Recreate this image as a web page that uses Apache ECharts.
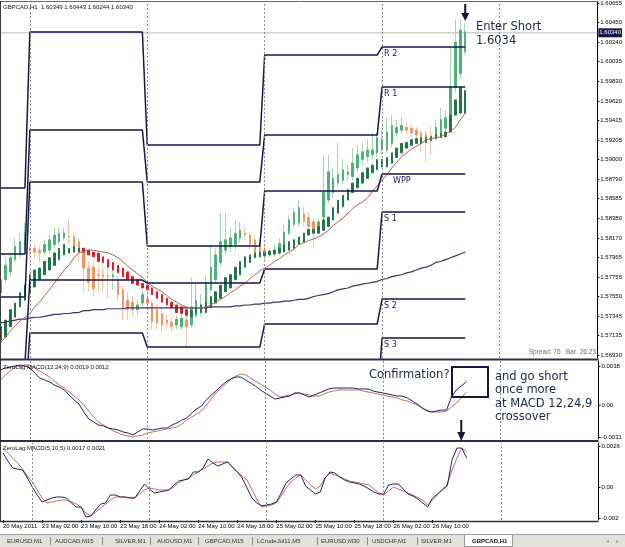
<!DOCTYPE html>
<html>
<head>
<meta charset="utf-8">
<script src="https://cdn.jsdelivr.net/npm/echarts@6/dist/echarts.min.js"></script>
<style>
  html, body { margin: 0; padding: 0; background: #fff; }
  #chart { width: 625px; height: 547px; }
</style>
</head>
<body>
<div id="chart"></div>
<script>
// ---- data ----
const sessions = [['20 May', 18, 24], ['23 May', 0, 24], ['24 May', 0, 24], ['25 May', 0, 24], ['26 May', 0, 24], ['27 May', 0, 21]]
const hours = []
sessions.forEach(([d, h0, h1]) => {
  for (let h = h0; h < h1; h++) hours.push(d + ' ' + String(h).padStart(2, '0') + ':00')
})

const candleOpen = [
  1.5759,1.5773,1.5781,1.5794,1.5799,1.5808,1.5806,1.5806,1.5804,1.5802,
  1.5804,1.5810,1.5813,1.5817,1.5819,1.5818,1.5813,1.5802,1.5785,1.5786,
  1.5778,1.5778,1.5777,1.5776,1.5773,1.5762,1.5751,1.5749,1.5741,1.5748,
  1.5753,1.5748,1.5741,1.5737,1.5730,1.5728,1.5725,1.5723,1.5730,1.5725,
  1.5735,1.5738,1.5741,1.5762,1.5773,1.5791,1.5804,1.5808,1.5810,1.5817,
  1.5822,1.5820,1.5815,1.5810,1.5804,1.5801,1.5800,1.5802,1.5810,1.5822,
  1.5831,1.5833,1.5842,1.5839,1.5834,1.5825,1.5839,1.5857,1.5865,1.5875,
  1.5878,1.5884,1.5882,1.5891,1.5900,1.5903,1.5905,1.5907,1.5910,1.5910,
  1.5917,1.5928,1.5931,1.5934,1.5933,1.5931,1.5928,1.5926,1.5925,1.5924,
  1.5929,1.5933,1.5934,1.5976,1.5991,1.6014]
const candleClose = [
  1.5773,1.5788,1.5796,1.5808,1.5813,1.5823,1.5803,1.5802,1.5801,1.5810,
  1.5815,1.5820,1.5822,1.5822,1.5818,1.5808,1.5802,1.5785,1.5770,1.5763,
  1.5777,1.5776,1.5776,1.5778,1.5757,1.5743,1.5741,1.5741,1.5746,1.5757,
  1.5748,1.5728,1.5727,1.5725,1.5727,1.5723,1.5731,1.5732,1.5723,1.5744,
  1.5751,1.5746,1.5770,1.5786,1.5799,1.5813,1.5815,1.5817,1.5822,1.5825,
  1.5820,1.5810,1.5801,1.5799,1.5799,1.5800,1.5804,1.5811,1.5823,1.5836,
  1.5844,1.5849,1.5834,1.5829,1.5823,1.5834,1.5865,1.5887,1.5880,1.5884,
  1.5889,1.5887,1.5896,1.5905,1.5908,1.5910,1.5910,1.5923,1.5921,1.5929,
  1.5936,1.5934,1.5936,1.5931,1.5928,1.5926,1.5924,1.5921,1.5923,1.5934,
  1.5942,1.5944,1.5977,1.6024,1.6037,1.6035]
const candleHigh = [
  1.5778,1.5796,1.5802,1.5817,1.5822,1.5833,1.5810,1.5811,1.5808,1.5815,
  1.5820,1.5828,1.5828,1.5828,1.5837,1.5821,1.5817,1.5805,1.5792,1.5792,
  1.5788,1.5785,1.5785,1.5785,1.5777,1.5767,1.5760,1.5756,1.5751,1.5762,
  1.5759,1.5751,1.5746,1.5743,1.5735,1.5732,1.5735,1.5738,1.5734,1.5775,
  1.5769,1.5757,1.5776,1.5808,1.5806,1.5843,1.5843,1.5828,1.5836,1.5834,
  1.5828,1.5823,1.5819,1.5815,1.5810,1.5806,1.5811,1.5817,1.5831,1.5841,
  1.5849,1.5857,1.5849,1.5844,1.5838,1.5838,1.5905,1.5905,1.5891,1.5917,
  1.5900,1.5894,1.5912,1.5915,1.5918,1.5921,1.5929,1.5928,1.5931,1.5945,
  1.5947,1.5942,1.5945,1.5940,1.5936,1.5934,1.5931,1.5931,1.5936,1.5942,
  1.5955,1.5952,1.6018,1.6048,1.6048,1.6044]
const candleLow = [
  1.5753,1.5769,1.5777,1.5791,1.5796,1.5804,1.5798,1.5796,1.5792,1.5799,
  1.5801,1.5806,1.5810,1.5814,1.5810,1.5802,1.5792,1.5760,1.5760,1.5755,
  1.5759,1.5760,1.5753,1.5762,1.5751,1.5730,1.5730,1.5734,1.5736,1.5745,
  1.5741,1.5720,1.5720,1.5717,1.5722,1.5717,1.5720,1.5720,1.5701,1.5722,
  1.5732,1.5734,1.5737,1.5759,1.5769,1.5787,1.5799,1.5802,1.5804,1.5812,
  1.5815,1.5804,1.5796,1.5794,1.5792,1.5796,1.5797,1.5799,1.5806,1.5819,
  1.5828,1.5829,1.5830,1.5823,1.5806,1.5821,1.5836,1.5854,1.5859,1.5871,
  1.5874,1.5878,1.5878,1.5887,1.5894,1.5897,1.5900,1.5902,1.5905,1.5907,
  1.5913,1.5924,1.5927,1.5927,1.5924,1.5921,1.5908,1.5897,1.5905,1.5921,
  1.5926,1.5929,1.5931,1.5971,1.5986,1.6011]

// smoothed (Heiken Ashi style) candles
const haOpen = [
  1.5709,1.5712,1.5723,1.5733,1.5744,1.5751,1.5759,1.5765,1.5773,1.5778,
  1.5783,1.5788,1.5794,1.5799,1.5801,1.5802,1.5802,1.5806,1.5804,1.5802,
  1.5801,1.5797,1.5794,1.5791,1.5788,1.5785,1.5781,1.5776,1.5773,1.5769,
  1.5767,1.5764,1.5760,1.5757,1.5753,1.5749,1.5746,1.5744,1.5741,1.5734,
  1.5737,1.5738,1.5738,1.5743,1.5748,1.5753,1.5760,1.5764,1.5773,1.5778,
  1.5786,1.5791,1.5796,1.5797,1.5798,1.5799,1.5800,1.5801,1.5802,1.5804,
  1.5806,1.5810,1.5812,1.5820,1.5822,1.5822,1.5825,1.5829,1.5836,1.5843,
  1.5850,1.5857,1.5865,1.5870,1.5875,1.5880,1.5886,1.5889,1.5892,1.5892,
  1.5896,1.5902,1.5907,1.5912,1.5915,1.5917,1.5917,1.5918,1.5920,1.5922,
  1.5923,1.5924,1.5929,1.5947,1.5949,1.5949]
const haClose = [
  1.5723,1.5730,1.5741,1.5748,1.5759,1.5767,1.5778,1.5783,1.5785,1.5792,
  1.5796,1.5801,1.5806,1.5810,1.5806,1.5808,1.5806,1.5802,1.5799,1.5797,
  1.5792,1.5791,1.5786,1.5783,1.5780,1.5776,1.5773,1.5769,1.5767,1.5764,
  1.5762,1.5757,1.5753,1.5749,1.5746,1.5743,1.5738,1.5737,1.5735,1.5740,
  1.5743,1.5746,1.5749,1.5755,1.5760,1.5767,1.5775,1.5778,1.5786,1.5792,
  1.5797,1.5799,1.5801,1.5802,1.5802,1.5803,1.5804,1.5806,1.5810,1.5813,
  1.5815,1.5818,1.5822,1.5826,1.5826,1.5829,1.5836,1.5839,1.5849,1.5857,
  1.5862,1.5868,1.5875,1.5880,1.5886,1.5891,1.5894,1.5900,1.5900,1.5902,
  1.5907,1.5912,1.5917,1.5918,1.5921,1.5922,1.5923,1.5923,1.5924,1.5926,
  1.5928,1.5929,1.5947,1.5963,1.5976,1.5973]

const fastMA = [
  1.5706,1.5712,1.5718,1.5724,1.5729,1.5733,1.5737,1.5744,1.5749,1.5756,
  1.5762,1.5769,1.5776,1.5783,1.5788,1.5796,1.5801,1.5803,1.5804,1.5804,
  1.5803,1.5802,1.5801,1.5799,1.5796,1.5792,1.5787,1.5783,1.5779,1.5775,
  1.5770,1.5766,1.5763,1.5760,1.5756,1.5752,1.5749,1.5746,1.5744,1.5743,
  1.5743,1.5743,1.5744,1.5746,1.5749,1.5752,1.5755,1.5759,1.5762,1.5766,
  1.5769,1.5774,1.5778,1.5782,1.5785,1.5788,1.5792,1.5795,1.5799,1.5802,
  1.5805,1.5810,1.5812,1.5814,1.5816,1.5818,1.5821,1.5825,1.5830,1.5834,
  1.5838,1.5843,1.5848,1.5852,1.5855,1.5859,1.5866,1.5872,1.5878,1.5884,
  1.5891,1.5897,1.5903,1.5907,1.5911,1.5914,1.5917,1.5921,1.5922,1.5923,
  1.5924,1.5927,1.5930,1.5934,1.5942,1.5949]
const slowMA = [
  1.5727,1.5728,1.5729,1.5730,1.5731,1.5731,1.5732,1.5733,1.5733,1.5734,
  1.5735,1.5736,1.5736,1.5737,1.5737,1.5738,1.5738,1.5740,1.5740,1.5741,
  1.5741,1.5741,1.5742,1.5742,1.5742,1.5742,1.5743,1.5743,1.5743,1.5743,
  1.5743,1.5743,1.5743,1.5743,1.5743,1.5743,1.5743,1.5743,1.5743,1.5743,
  1.5743,1.5743,1.5743,1.5744,1.5744,1.5744,1.5744,1.5744,1.5745,1.5745,
  1.5746,1.5746,1.5747,1.5747,1.5748,1.5748,1.5749,1.5749,1.5750,1.5750,
  1.5751,1.5752,1.5752,1.5753,1.5755,1.5756,1.5757,1.5758,1.5760,1.5762,
  1.5763,1.5764,1.5766,1.5767,1.5768,1.5769,1.5770,1.5771,1.5773,1.5774,
  1.5776,1.5777,1.5778,1.5780,1.5781,1.5783,1.5785,1.5786,1.5788,1.5791,
  1.5792,1.5794,1.5796,1.5798,1.5800,1.5802]

// daily pivot levels
const pivotDays = ['20 May', '23 May', '24 May', '25 May', '26 May']
const pivotR2 = [1.58698, 1.60348, 1.59153, 1.60105, 1.60190]
const pivotR1 = [1.57999, 1.59311, 1.58761, 1.59258, 1.59766]
const pivotPP = [1.57544, 1.58761, 1.58084, 1.58666, 1.58846]
const pivotS1 = [1.56846, 1.57724, 1.57692, 1.57840, 1.58444]
const pivotS2 = [1.56391, 1.57163, 1.57015, 1.57258, 1.57523]
const pivotS3 = [1.55692, 1.56126, 1.56624, 1.56412, 1.57110]

const macd1Main = [
  0.00340,0.00360,0.00369,0.00379,0.00389,0.00379,0.00360,0.00311,0.00262,0.00243,
  0.00224,0.00194,0.00175,0.00146,0.00097,0.00049,0.00010,-0.00068,-0.00136,-0.00165,
  -0.00194,-0.00204,-0.00224,-0.00233,-0.00243,-0.00262,-0.00272,-0.00292,-0.00262,-0.00233,
  -0.00233,-0.00243,-0.00233,-0.00224,-0.00224,-0.00194,-0.00175,-0.00146,-0.00126,-0.00078,
  -0.00039,-0.00010,0.00049,0.00097,0.00136,0.00185,0.00224,0.00253,0.00272,0.00272,
  0.00243,0.00214,0.00185,0.00146,0.00117,0.00087,0.00058,0.00068,0.00078,0.00087,
  0.00117,0.00117,0.00097,0.00078,0.00097,0.00117,0.00136,0.00156,0.00165,0.00165,
  0.00165,0.00165,0.00165,0.00156,0.00156,0.00156,0.00136,0.00126,0.00117,0.00107,
  0.00097,0.00087,0.00087,0.00068,0.00039,0.00010,-0.00029,-0.00058,-0.00068,-0.00058,
  -0.00049,-0.00049,0.00078,0.00146,0.00185,0.00224]
const macd1Signal = [
  0.00243,0.00292,0.00330,0.00369,0.00379,0.00389,0.00389,0.00360,0.00330,0.00301,
  0.00272,0.00233,0.00194,0.00165,0.00126,0.00087,0.00049,0.00000,-0.00058,-0.00117,
  -0.00165,-0.00194,-0.00224,-0.00253,-0.00272,-0.00292,-0.00301,-0.00311,-0.00301,-0.00292,
  -0.00272,-0.00262,-0.00253,-0.00243,-0.00233,-0.00224,-0.00214,-0.00185,-0.00146,-0.00117,
  -0.00087,-0.00058,0.00000,0.00058,0.00117,0.00165,0.00204,0.00253,0.00282,0.00301,
  0.00292,0.00262,0.00233,0.00204,0.00175,0.00146,0.00107,0.00078,0.00087,0.00097,
  0.00107,0.00117,0.00107,0.00097,0.00087,0.00087,0.00107,0.00126,0.00136,0.00146,
  0.00146,0.00146,0.00146,0.00146,0.00136,0.00126,0.00117,0.00107,0.00097,0.00087,
  0.00078,0.00068,0.00049,0.00039,0.00019,0.00000,-0.00029,-0.00049,-0.00068,-0.00068,
  -0.00068,-0.00058,-0.00019,0.00019,0.00068,0.00126]
const macd2Main = [
  0.00217,0.00166,0.00121,0.00115,0.00109,0.00058,0.00000,-0.00051,-0.00096,-0.00083,
  -0.00070,-0.00064,-0.00064,-0.00070,-0.00102,-0.00128,-0.00128,-0.00192,-0.00185,-0.00147,
  -0.00109,-0.00102,-0.00051,-0.00051,-0.00064,-0.00064,-0.00070,-0.00070,-0.00026,0.00019,
  -0.00013,-0.00038,-0.00032,-0.00026,-0.00019,0.00013,0.00038,0.00045,0.00051,0.00096,
  0.00096,0.00121,0.00179,0.00153,0.00134,0.00147,0.00160,0.00128,0.00096,0.00058,
  -0.00006,-0.00070,-0.00102,-0.00121,-0.00115,-0.00109,-0.00096,-0.00038,0.00026,0.00051,
  0.00077,0.00077,0.00006,-0.00019,-0.00045,-0.00032,0.00058,0.00096,0.00089,0.00064,
  0.00045,0.00032,0.00026,0.00019,0.00006,-0.00013,-0.00032,-0.00045,-0.00045,0.00013,
  0.00019,0.00019,-0.00013,-0.00045,-0.00058,-0.00077,-0.00102,-0.00128,-0.00070,-0.00045,
  -0.00019,0.00006,0.00173,0.00249,0.00249,0.00185]
const macd2Signal = [
  0.00249,0.00217,0.00185,0.00153,0.00115,0.00070,0.00032,-0.00019,-0.00070,-0.00102,
  -0.00096,-0.00089,-0.00083,-0.00083,-0.00096,-0.00109,-0.00128,-0.00166,-0.00185,-0.00160,
  -0.00134,-0.00109,-0.00083,-0.00064,-0.00064,-0.00064,-0.00070,-0.00070,-0.00045,-0.00019,
  -0.00006,-0.00013,-0.00019,-0.00019,-0.00019,0.00000,0.00026,0.00045,0.00058,0.00077,
  0.00096,0.00115,0.00134,0.00153,0.00160,0.00160,0.00160,0.00128,0.00096,0.00070,
  0.00045,-0.00019,-0.00077,-0.00128,-0.00121,-0.00115,-0.00102,-0.00058,-0.00006,0.00032,
  0.00058,0.00077,0.00045,0.00013,-0.00013,0.00006,0.00058,0.00089,0.00077,0.00064,
  0.00051,0.00038,0.00032,0.00026,0.00019,0.00013,-0.00013,-0.00038,-0.00051,-0.00026,
  0.00000,-0.00013,-0.00026,-0.00038,-0.00051,-0.00070,-0.00083,-0.00115,-0.00083,-0.00051,
  -0.00013,0.00013,0.00109,0.00185,0.00249,0.00224]

// axis tick labels
const priceTicks = [1.56930, 1.57135, 1.57345, 1.57550, 1.57755, 1.57965, 1.58170, 1.58380, 1.58585, 1.58790,
  1.59000, 1.59205, 1.59415, 1.59620, 1.59830, 1.60035, 1.60240, 1.60450, 1.60655]
const macd1Ticks = [0.0038, 0, -0.0031]
const macd1TickText = ['0.0038', '0.00', '-0.0031']
const macd2Ticks = [0.0026, 0, -0.002]
const macd2TickText = ['0.0026', '0.00', '-0.002']
const dateTickIdx = [0, 8, 16, 24, 32, 40, 48, 56, 64, 72, 80, 88]
const daySeparators = ['23 May 00:00', '24 May 00:00', '25 May 00:00', '26 May 00:00', '27 May 00:00']
const lastPrice = 1.60340

// ---- styles ----
const FONT = 'Liberation Sans, Arial, sans-serif'
const navy = '#16164a'
const bull = '#52b07a', bullWick = '#a6d6b8', bear = '#ee9866', bearWick = '#f2c6a8'
const haBull = '#217548', haBear = '#d8202a'

const chart = echarts.init(document.getElementById('chart'))

const wickData = candleOpen.map((o, i) => [o, candleClose[i], candleLow[i], candleHigh[i]])
const bodyData = candleOpen.map((o, i) => [o, candleClose[i], Math.min(o, candleClose[i]), Math.max(o, candleClose[i])])
const haData = haOpen.map((o, i) => [o, haClose[i], Math.min(o, haClose[i]), Math.max(o, haClose[i])])
const dayOf = i => pivotDays.indexOf(hours[i].slice(0, 6))
const pivotSeries = [pivotR2, pivotR1, pivotPP, pivotS1, pivotS2, pivotS3].map(level => ({
  type: 'line', xAxisIndex: 0, yAxisIndex: 0, symbol: 'none', silent: true, z: 4,
  lineStyle: { color: navy, width: 1.5 },
  data: candleOpen.map((_, i) => level[dayOf(i)])
}))

const sepLine = {
  silent: true, symbol: 'none', label: { show: false },
  lineStyle: { color: '#8a8a8a', type: [2, 2], width: 1 },
  data: daySeparators.map(n => ({ xAxis: n }))
}

function tickText(ticks, texts) {
  return v => {
    const k = ticks.findIndex(t => Math.abs(t - v) < 1e-9)
    return k >= 0 ? texts[k] : ''
  }
}

const subLine = (data, color, xi) => ({
  type: 'line', xAxisIndex: xi, yAxisIndex: xi, data, symbol: 'none', silent: true,
  lineStyle: { color, width: 1 }
})

chart.setOption({
  animation: false,
  backgroundColor: '#fff',
  textStyle: { fontFamily: FONT },
  grid: [
    { left: 0.5, top: 2, width: 598, height: 356 },
    { left: 0.5, top: 361, width: 598, height: 78 },
    { left: 0.5, top: 443, width: 598, height: 77 }
  ],
  xAxis: [0, 1, 2].map(g => ({
    type: 'category', gridIndex: g, data: hours, boundaryGap: false,
    axisLine: { show: false, onZero: false }, splitLine: { show: false },
    axisTick: { show: g === 2, interval: i => dateTickIdx.includes(i), length: 3, lineStyle: { color: '#000' } },
    axisLabel: {
      show: g === 2, interval: i => dateTickIdx.includes(i), hideOverlap: false,
      formatter: (v, i) => (i === 0 ? '20 May 2011' : v),
      align: 'left', fontSize: 6, color: '#000', margin: 3, fontFamily: FONT
    }
  })),
  yAxis: [
    {
      gridIndex: 0, type: 'value', position: 'right', min: 1.56899, max: 1.60666,
      splitLine: { show: false }, axisLine: { show: true, lineStyle: { color: '#000' } },
      axisTick: { show: true, length: 2, customValues: priceTicks, lineStyle: { color: '#000' } },
      axisLabel: { customValues: priceTicks, formatter: v => v.toFixed(5), fontSize: 6, color: '#000', margin: 3, fontFamily: FONT }
    },
    {
      gridIndex: 1, type: 'value', position: 'right', min: -0.003305, max: 0.004277,
      splitLine: { show: false }, axisLine: { show: true, lineStyle: { color: '#000' } },
      axisTick: { show: true, length: 2, customValues: macd1Ticks, lineStyle: { color: '#000' } },
      axisLabel: { customValues: macd1Ticks, formatter: tickText(macd1Ticks, macd1TickText), fontSize: 6, color: '#000', margin: 3, fontFamily: FONT }
    },
    {
      gridIndex: 2, type: 'value', position: 'right', min: -0.002109, max: 0.002812,
      splitLine: { show: false }, axisLine: { show: true, lineStyle: { color: '#000' } },
      axisTick: { show: true, length: 2, customValues: macd2Ticks, lineStyle: { color: '#000' } },
      axisLabel: { customValues: macd2Ticks, formatter: tickText(macd2Ticks, macd2TickText), fontSize: 6, color: '#000', margin: 3, fontFamily: FONT }
    }
  ],
  series: [
    {
      // bid line across the whole pane
      type: 'line', xAxisIndex: 0, yAxisIndex: 0, data: hours.map(() => lastPrice), symbol: 'none', silent: true, z: 1,
      lineStyle: { color: '#bdbdbd', width: 1 },
      endLabel: {
        show: true, formatter: lastPrice.toFixed(5), distance: 1,
        backgroundColor: navy, color: '#fff', fontSize: 6, padding: [2, 1, 1, 1], fontFamily: FONT
      }
    },
    {
      type: 'candlestick', xAxisIndex: 0, yAxisIndex: 0, data: wickData, barWidth: 1, silent: true, z: 2,
      itemStyle: { color: bullWick, color0: bearWick, borderColor: bullWick, borderColor0: bearWick, borderWidth: 1 }
    },
    {
      type: 'candlestick', xAxisIndex: 0, yAxisIndex: 0, data: bodyData, barWidth: 2, silent: true, z: 2,
      itemStyle: { color: bull, color0: bear, borderColor: bull, borderColor0: bear, borderWidth: 1 }
    },
    {
      type: 'candlestick', xAxisIndex: 0, yAxisIndex: 0, data: haData, barWidth: 2, silent: true, z: 3,
      itemStyle: { color: haBull, color0: haBear, borderColor: haBull, borderColor0: haBear, borderWidth: 1 },
      markLine: sepLine
    },
    {
      type: 'line', xAxisIndex: 0, yAxisIndex: 0, data: slowMA, symbol: 'none', silent: true, z: 4,
      lineStyle: { color: '#34346e', width: 1.2 }
    },
    {
      type: 'line', xAxisIndex: 0, yAxisIndex: 0, data: fastMA, symbol: 'none', silent: true, z: 4,
      lineStyle: { color: '#b0624e', width: 1 }
    },
    ...pivotSeries,
    Object.assign(subLine(macd1Signal, '#c0705c', 1), { markLine: sepLine }),
    subLine(macd1Main, '#20206a', 1),
    Object.assign(subLine(macd2Signal, '#c0705c', 2), { markLine: sepLine }),
    subLine(macd2Main, '#20206a', 2)
  ]
})

// ---- annotations, frames, labels ----
const px = (g, name, v) => chart.convertToPixel({ gridIndex: g }, [name, v])
const lastBar = hours[candleOpen.length - 1]
const prevBar = hours[candleOpen.length - 2]
const day26 = '26 May 00:00'
const txt = (x, y, text, size, color, extra) => ({
  type: 'text', silent: true, z: 100,
  style: Object.assign({ x, y, text, fill: color, font: size + 'px ' + FONT, verticalAlign: 'middle' }, extra || {})
})
const seg = (x1, y1, x2, y2, color, w) => ({
  type: 'line', silent: true, z: 90, shape: { x1, y1, x2, y2 }, style: { stroke: color, lineWidth: w }
})

const gfx = []
// pane frames
gfx.push(seg(0.5, 1.5, 598.5, 1.5, '#6a6a6a', 1))
gfx.push(seg(0.5, 1, 0.5, 522, '#3a3a3a', 1))
gfx.push(seg(0, 359.5, 598.5, 359.5, '#2e2e48', 2))
gfx.push(seg(0, 441, 598.5, 441, '#2e2e48', 2))
gfx.push(seg(0, 521.5, 598.5, 521.5, '#2e2e48', 1.5))

// indicator titles
gfx.push(txt(3, 7, 'GBPCAD,H1  1.60349 1.60443 1.60244 1.60340', 6, '#111'))
gfx.push(txt(3, 367, 'ZeroLag MACD(12,24,9) 0.0019 0.0012', 6, '#111'))
gfx.push(txt(3, 448, 'ZeroLag MACD(5,10,5) 0.0017 0.0021', 6, '#111'))
gfx.push(txt(596, 352, 'Spread: 76   Bar  26:23', 6.5, '#6a6a6a', { align: 'right' }))

// pivot labels at the start of 26 May
const pivLabels = [['R 2', pivotR2, 2], ['R 1', pivotR1, 2], ['WPP', pivotPP, 11], ['S 1', pivotS1, 2], ['S 2', pivotS2, 2], ['S 3', pivotS3, 2]]
pivLabels.forEach(([name, level, dx]) => {
  const p = px(0, day26, level[4])
  gfx.push(txt(p[0] + dx, p[1] + 7, name, 8, navy, { font: '8px DejaVu Sans' }))
})

// enter short arrow + text
const arrowPt = px(0, lastBar, lastPrice)
gfx.push(seg(arrowPt[0], 4, arrowPt[0], 15, '#141438', 2))
gfx.push({ type: 'polygon', silent: true, z: 91, shape: { points: [[arrowPt[0] - 4, 13], [arrowPt[0] + 4, 13], [arrowPt[0], 21]] }, style: { fill: '#141438' } })
gfx.push(txt(476, 27, 'Enter Short', 11.5, '#1c2448', { font: '11.5px DejaVu Sans' }))
gfx.push(txt(476, 41, '1.6034', 11.5, '#1c2448', { font: '11.5px DejaVu Sans' }))

// macd annotation
const mx = px(1, prevBar, 0)[0]
gfx.push(seg(mx, 420, mx, 434, '#141438', 2))
gfx.push({ type: 'polygon', silent: true, z: 91, shape: { points: [[mx - 4, 432], [mx + 4, 432], [mx, 441]] }, style: { fill: '#141438' } })
gfx.push(txt(369, 375, 'Confirmation?', 11.5, '#1c2448', { font: '11.5px DejaVu Sans' }))
gfx.push({ type: 'rect', silent: true, z: 92, shape: { x: 452, y: 367, width: 36, height: 30 }, style: { fill: 'none', stroke: '#16163e', lineWidth: 2 } })
;['and go short', 'once more', 'at MACD 12,24,9', 'crossover'].forEach((s, k) => {
  gfx.push(txt(495, 377 + k * 13.5, s, 11.5, '#1c2448', { font: '11.5px DejaVu Sans' }))
})

// terminal tabs
gfx.push({ type: 'rect', silent: true, z: 80, shape: { x: 0, y: 534, width: 625, height: 13 }, style: { fill: '#e3e1dc' } })
gfx.push(seg(0, 534.5, 625, 534.5, '#a0a0a0', 1))
const tabs = [['EURUSD,M1', 7], ['AUDCAD,M15', 55], ['SILVER,M1', 115], ['AUDUSD,M1', 157], ['GBPCAD,M15', 205],
  ['LCrudeJul11,M5', 257], ['EURUSD,M30', 321], ['USDCHF,M1', 372], ['SILVER,M1', 421]]
const tabSeps = [50, 102, 150, 198, 252, 317, 367, 417]
tabs.forEach(([s, x]) => gfx.push(txt(x, 541, s, 6, '#333')))
tabSeps.forEach(x => gfx.push(seg(x + 0.5, 537, x + 0.5, 545, '#8a8a8a', 1)))
gfx.push({ type: 'rect', silent: true, z: 95, shape: { x: 464.5, y: 534.5, width: 48, height: 12 }, style: { fill: '#fff', stroke: '#9a9a9a', lineWidth: 1 } })
gfx.push(txt(472, 541, 'GBPCAD,H1', 6, '#111', { font: 'bold 6px ' + FONT }))
gfx.push(txt(606, 541, '\u25C2', 6, '#999'))
gfx.push(txt(616, 541, '\u25B8', 6, '#999'))

chart.setOption({ graphic: gfx })
</script>
</body>
</html>
